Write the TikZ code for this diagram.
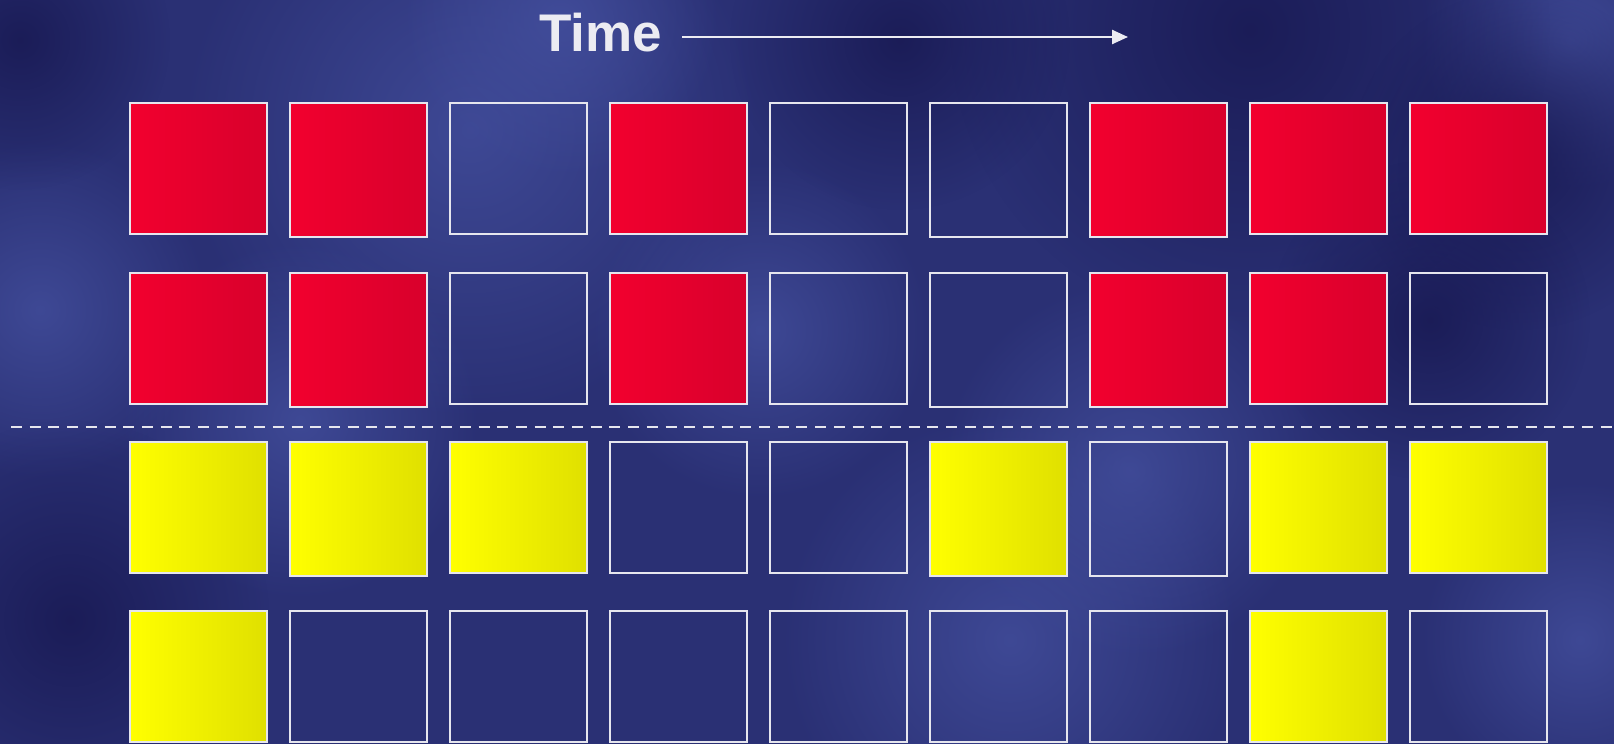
\documentclass[tikz,border=0pt]{standalone}
\usepackage{fontspec}
\setmainfont{Liberation Sans}
\usetikzlibrary{arrows.meta,fadings}
\definecolor{bgbase}{HTML}{2A3074}
\definecolor{bglight}{HTML}{4551A0}
\definecolor{bgdark}{HTML}{16164E}
\definecolor{boxline}{HTML}{E6E6EE}
\definecolor{redL}{HTML}{F2002E}
\definecolor{redR}{HTML}{D8002C}
\definecolor{yelL}{HTML}{FFFF00}
\definecolor{yelR}{HTML}{E0E000}
\definecolor{txt}{HTML}{ECECF2}
\tikzfading[name=softblob, inner color=transparent!0, outer color=transparent!100]
\tikzset{
  cell/.style={draw=boxline, line width=2.7pt, minimum width=137pt, minimum height=131pt,
    inner sep=0pt, outer sep=0pt, anchor=north west},
  redcell/.style={cell, left color=redL, right color=redR},
  yelcell/.style={cell, left color=yelL, right color=yelR},
  emptycell/.style={cell},
  tall/.style={minimum height=134pt},
  blobL/.style={fill=bglight, path fading=softblob, fill opacity=0.75},
  blobD/.style={fill=bgdark, path fading=softblob, fill opacity=0.75},
  divider/.style={draw=boxline, line width=2.2pt, dash pattern=on 11pt off 7.7pt},
  timearrow/.style={draw=txt, line width=2.4pt, -{Triangle[length=16pt,width=14pt]}}
}
\begin{document}
\begin{tikzpicture}[x=1pt,y=-1pt]
\useasboundingbox (0,0) rectangle (1614,744);
% background
\fill[bgbase] (0,0) rectangle (1614,744);
\begin{scope}
\clip (0,0) rectangle (1614,744);
\fill[blobL] (470,130) circle (290);
\fill[blobL] (560,20) circle (160);
\fill[blobL] (40,310) circle (170);
\fill[blobL] (1010,640) circle (230);
\fill[blobL] (1130,470) circle (190);
\fill[blobL] (1570,40) circle (150);
\fill[blobL] (760,330) circle (170);
\fill[blobL] (1580,640) circle (160);
\fill[blobL] (300,420) circle (180);
\fill[blobD] (1250,30) circle (300);
\fill[blobD] (900,40) circle (170);
\fill[blobD] (1520,160) circle (170);
\fill[blobD] (1430,320) circle (160);
\fill[blobD] (70,620) circle (200);
\fill[blobD] (20,40) circle (150);
\end{scope}
% title
\node[text=txt, anchor=base west, inner sep=0pt, font={\fontsize{53}{60}\selectfont\bfseries}] (time) at (539,51.5) {Time};
\coordinate (tA) at (682,37);
\coordinate (tB) at (1128,37);
\draw[timearrow] (tA) -- (tB);
% row 1
\node[redcell] (r1c1) at (130,103) {};
\node[redcell,tall] (r1c2) at (290,103) {};
\node[emptycell] (r1c3) at (450,103) {};
\node[redcell] (r1c4) at (610,103) {};
\node[emptycell] (r1c5) at (770,103) {};
\node[emptycell,tall] (r1c6) at (930,103) {};
\node[redcell,tall] (r1c7) at (1090,103) {};
\node[redcell] (r1c8) at (1250,103) {};
\node[redcell] (r1c9) at (1410,103) {};
% row 2
\node[redcell] (r2c1) at (130,273) {};
\node[redcell,tall] (r2c2) at (290,273) {};
\node[emptycell] (r2c3) at (450,273) {};
\node[redcell] (r2c4) at (610,273) {};
\node[emptycell] (r2c5) at (770,273) {};
\node[emptycell,tall] (r2c6) at (930,273) {};
\node[redcell,tall] (r2c7) at (1090,273) {};
\node[redcell] (r2c8) at (1250,273) {};
\node[emptycell] (r2c9) at (1410,273) {};
% divider
\coordinate (dA) at (11,427);
\coordinate (dB) at (1614,427);
\draw[divider] (dA) -- (dB);
% row 3
\node[yelcell] (r3c1) at (130,442) {};
\node[yelcell,tall] (r3c2) at (290,442) {};
\node[yelcell] (r3c3) at (450,442) {};
\node[emptycell] (r3c4) at (610,442) {};
\node[emptycell] (r3c5) at (770,442) {};
\node[yelcell,tall] (r3c6) at (930,442) {};
\node[emptycell,tall] (r3c7) at (1090,442) {};
\node[yelcell] (r3c8) at (1250,442) {};
\node[yelcell] (r3c9) at (1410,442) {};
% row 4
\node[yelcell] (r4c1) at (130,611) {};
\node[emptycell] (r4c2) at (290,611) {};
\node[emptycell] (r4c3) at (450,611) {};
\node[emptycell] (r4c4) at (610,611) {};
\node[emptycell] (r4c5) at (770,611) {};
\node[emptycell] (r4c6) at (930,611) {};
\node[emptycell] (r4c7) at (1090,611) {};
\node[yelcell] (r4c8) at (1250,611) {};
\node[emptycell] (r4c9) at (1410,611) {};
\end{tikzpicture}
\end{document}
